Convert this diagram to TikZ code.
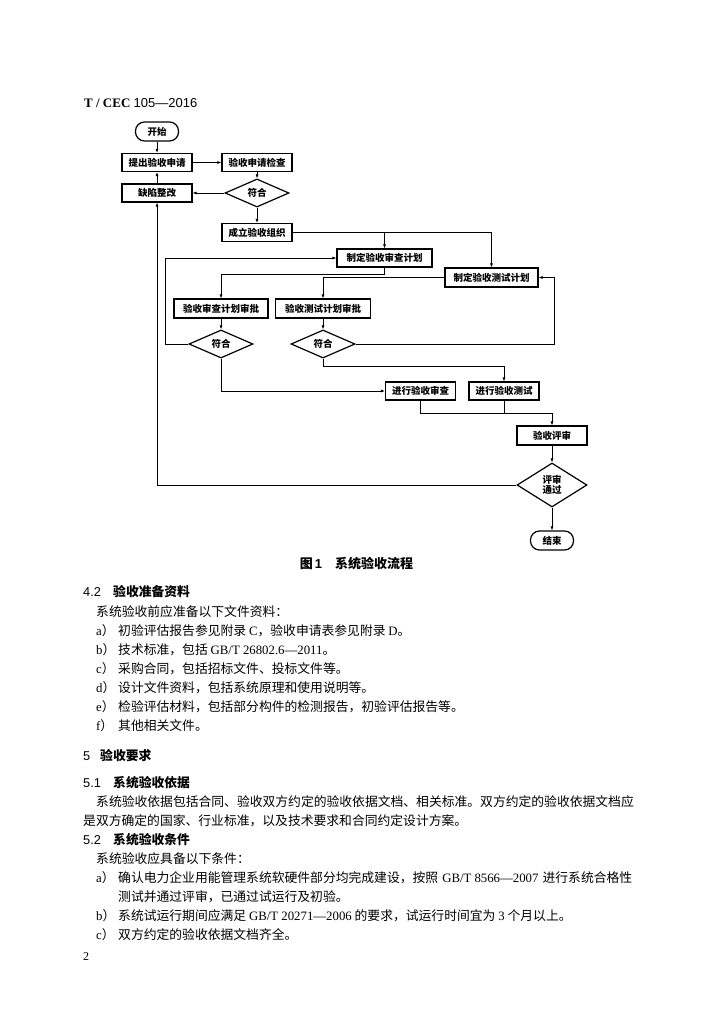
\documentclass[tikz,border=0pt]{standalone}
\usepackage{fontspec}
\setmainfont{Liberation Serif}
\newfontfamily\cjk{Noto Sans CJK SC}
\newfontfamily\sanslat{Liberation Sans}
\usetikzlibrary{shapes.geometric,arrows.meta}
\newcommand\lat{\rmfamily}
\begin{document}
\begin{tikzpicture}[x=1pt,y=-1pt,
  fc/.style={font=\cjk\bfseries\fontsize{9.5}{11}\selectfont},
  pbox/.style={draw,line width=1.2pt,rectangle,inner sep=0pt,minimum width=70pt,minimum height=18pt,fc},
  term/.style={draw,line width=1.2pt,rectangle,rounded corners=9pt,inner sep=0pt,minimum width=43pt,minimum height=19pt,fc},
  dec/.style={draw,line width=1.2pt,diamond,inner sep=0pt,minimum width=64pt,minimum height=28pt,fc,align=center},
  arr/.style={line width=0.7pt,-{Latex[length=4pt,width=3pt]}},
  ln/.style={line width=0.7pt},
  txt/.style={anchor=base west,inner sep=0pt,font=\cjk\fontsize{12.8}{15}\selectfont},
  hd/.style={anchor=base west,inner sep=0pt,font=\cjk\bfseries\fontsize{12.8}{15}\selectfont},
  num/.style={anchor=base west,inner sep=0pt,font=\sanslat\fontsize{12.8}{15}\selectfont}
]
\fill[white] (0,0) rectangle (724,1024);
\useasboundingbox (0,0) rectangle (724,1024);

% header
\node[anchor=base west,inner sep=0pt] (hdr) at (84,108) {\fontsize{13}{15}\selectfont\bfseries T / CEC {\sanslat\mdseries 105—2016}};

% flowchart nodes
\node[term] (start) at (157,131.5) {开始};
\node[pbox] (apply) at (157,162.5) {提出验收申请};
\node[pbox] (check) at (257,162.5) {验收申请检查};
\node[pbox] (fix) at (157,193) {缺陷整改};
\node[dec] (d1) at (257,193) {符合};
\node[pbox] (org) at (257,232.5) {成立验收组织};
\node[pbox,minimum width=95pt] (plan1) at (384.5,258) {制定验收审查计划};
\node[pbox,minimum width=93pt,minimum height=19pt] (plan2) at (491.5,277.5) {制定验收测试计划};
\node[pbox,minimum width=94pt,minimum height=19pt] (appr1) at (221,308.5) {验收审查计划审批};
\node[pbox,minimum width=95pt,minimum height=19pt] (appr2) at (323,308.5) {验收测试计划审批};
\node[dec] (d2) at (221,344) {符合};
\node[dec] (d3) at (323,344) {符合};
\node[pbox] (do1) at (420.5,391) {进行验收审查};
\node[pbox] (do2) at (504,391) {进行验收测试};
\node[pbox,minimum height=19pt] (rev) at (552,435.5) {验收评审};
\node[dec,minimum width=70pt,minimum height=44pt,font=\cjk\bfseries\fontsize{9.5}{10.5}\selectfont] (d4) at (552,485) {评审\\通过};
\node[term] (end) at (552,540.5) {结束};

% connectors
\draw[arr] (start) -- (apply);
\draw[arr] (apply) -- (check);
\draw[arr] (check) -- (d1);
\draw[arr] (d1) -- (fix);
\draw[arr] (fix) -- (apply);
\draw[arr] (d1) -- (org);
\draw[arr] (org.east) -| (plan2.north);
\coordinate (j1) at (plan1.north |- org.east);
\draw[arr] (j1) -- (plan1.north);
\draw[arr] (plan1.south) -- ++(0,7) -| (appr1.north);
\draw[arr] (plan2.west) -| (appr2.north);
\draw[arr] (appr1) -- (d2);
\draw[arr] (appr2) -- (d3);
\draw[arr] (d2.west) -- ++(-23,0) |- (plan1.west);
\draw[arr] (d3.east) -- ++(199,0) |- (plan2.east);
\draw[arr] (d2.south) |- (do1.west);
\draw[arr] (d3.south) -- ++(0,8) -| (do2.north);
\draw[arr] (do1.south) -- ++(0,13) -| (rev.north);
\coordinate (j2) at (do2.south |- 0,413);
\draw[ln] (do2.south) -- (j2);
\draw[arr] (rev) -- (d4);
\draw[arr] (d4.west) -| (fix.south);
\draw[arr] (d4) -- (end);

% caption
\node[anchor=base,inner sep=0pt,font=\cjk\bfseries\fontsize{13}{15}\selectfont] (cap) at (356.5,568) {图\,{\sanslat 1}\hspace{13pt}系统验收流程};

% section 4.2
\node[num] (n42) at (83,596) {4.2};
\node[hd] (h42) at (113,596) {验收准备资料};
\node[txt] (p1) at (96,616) {系统验收前应准备以下文件资料：};
\node[txt] (la) at (96,635) {{\lat a}）};
\node[txt] (ta) at (118,635) {初验评估报告参见附录 {\lat C}，验收申请表参见附录 {\lat D}。};
\node[txt] (lb) at (96,654) {{\lat b}）};
\node[txt] (tb) at (118,654) {技术标准，包括 {\lat GB/T 26802.6—2011}。};
\node[txt] (lc) at (96,673) {{\lat c}）};
\node[txt] (tc) at (118,673) {采购合同，包括招标文件、投标文件等。};
\node[txt] (ld) at (96,692) {{\lat d}）};
\node[txt] (td) at (118,692) {设计文件资料，包括系统原理和使用说明等。};
\node[txt] (le) at (96,711) {{\lat e}）};
\node[txt] (te) at (118,711) {检验评估材料，包括部分构件的检测报告，初验评估报告等。};
\node[txt] (lf) at (96,730) {{\lat f}）};
\node[txt] (tf) at (118,730) {其他相关文件。};

% section 5
\node[num] (n5) at (83,760) {5};
\node[hd] (h5) at (100,760) {验收要求};
\node[num] (n51) at (83,787) {5.1};
\node[hd] (h51) at (113,787) {系统验收依据};
\node[txt] (p2) at (96,806) {系统验收依据包括合同、验收双方约定的验收依据文档、相关标准。双方约定的验收依据文档应};
\node[txt] (p3) at (83,825) {是双方确定的国家、行业标准，以及技术要求和合同约定设计方案。};
\node[num] (n52) at (83,844) {5.2};
\node[hd] (h52) at (113,844) {系统验收条件};
\node[txt] (p4) at (96,863) {系统验收应具备以下条件：};
\node[txt] (l2a) at (96,882) {{\lat a}）};
\node[txt] (t2a) at (118,882) {\hbox to 514pt{确认电力企业用能管理系统软硬件部分均完成建设，按照\hskip 4pt plus 1fil{\lat GB/T}\hskip 3pt plus 1fil{\lat 8566—2007}\hskip 4pt plus 1fil 进行系统合格性}};
\node[txt] (t2a2) at (118,901) {测试并通过评审，已通过试运行及初验。};
\node[txt] (l2b) at (96,920) {{\lat b}）};
\node[txt] (t2b) at (118,920) {系统试运行期间应满足 {\lat GB/T 20271—2006} 的要求，试运行时间宜为 {\lat 3} 个月以上。};
\node[txt] (l2c) at (96,939) {{\lat c}）};
\node[txt] (t2c) at (118,939) {双方约定的验收依据文档齐全。};
\node[anchor=base west,inner sep=0pt,font=\lat\fontsize{12}{14}\selectfont] (pg) at (83,960) {2};
\end{tikzpicture}
\end{document}
